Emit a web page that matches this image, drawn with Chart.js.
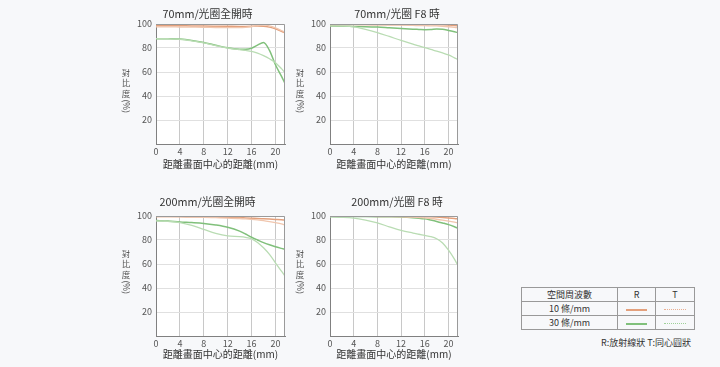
<!DOCTYPE html>
<html>
<head>
<meta charset="utf-8">
<script src="https://cdn.jsdelivr.net/npm/chart.js@4.4.1/dist/chart.umd.min.js"></script>
<style>
  body { margin: 0; width: 720px; height: 367px; overflow: hidden; position: relative; background: #f7f8fa; font-family: "Noto Sans CJK TC", sans-serif; }
  canvas { position: absolute; }
  #legend { position: absolute; left: 521px; top: 287px; border-collapse: collapse; font-size: 9px; color: #333; }
  #legend th, #legend td { border: 1px solid #999; padding: 0; height: 13px; text-align: center; font-weight: normal; line-height: 13px; }
  .smp { display: inline-block; width: 21px; vertical-align: middle; }
  #note { position: absolute; left: 601px; top: 336px; font-size: 9px; color: #333; }
</style>
</head>
<body>
<canvas id="c1" width="181" height="170" style="left:110px;top:0px"></canvas>
<canvas id="c2" width="180" height="170" style="left:284px;top:0px"></canvas>
<canvas id="c3" width="181" height="168" style="left:110px;top:192px"></canvas>
<canvas id="c4" width="180" height="168" style="left:284px;top:192px"></canvas>
<table id="legend"></table>
<div id="note">R:放射線狀 T:同心圓狀</div>
<script>
// --- MTF 曲線 ---
const distance = [0, 2, 4, 6, 8, 10, 12, 14, 15, 16, 17, 18, 19, 20, 21, 21.6];
const xTicks = [0, 4, 8, 12, 16, 20];
const yTicks = [20, 40, 60, 80, 100];

const titles = ['70mm/光圈全開時', '70mm/光圈 F8 時', '200mm/光圈全開時', '200mm/光圈 F8 時'];
const xTitle = '距離畫面中心的距離(mm)';
const freqLabels = ['10 條/mm', '30 條/mm'];

// 70mm 全開
const w70openR10 = [98.6, 98.6, 98.5, 98.4, 98.3, 98.2, 98.1, 98.0, 98.0, 98.1, 98.3, 98.2, 97.4, 96.0, 94.0, 92.6];
const w70openT10 = [97.6, 97.6, 97.5, 97.4, 97.3, 97.1, 97.0, 97.0, 97.2, 97.7, 98.6, 99.2, 98.4, 96.8, 94.6, 93.2];
const w70openR30 = [87.8, 87.7, 87.4, 86.3, 84.6, 82.3, 80.2, 79.0, 78.9, 79.8, 82.4, 84.6, 78.0, 66.0, 56.5, 50.5];
const w70openT30 = [87.8, 87.7, 87.3, 86.0, 84.3, 82.0, 80.0, 78.6, 78.0, 77.2, 75.7, 73.6, 71.0, 67.8, 62.8, 59.4];
// 70mm F8
const w70f8R10 = [99.7, 99.7, 99.7, 99.7, 99.6, 99.6, 99.6, 99.5, 99.5, 99.5, 99.5, 99.4, 99.3, 99.1, 98.8, 98.5];
const w70f8T10 = [99.4, 99.4, 99.4, 99.3, 99.2, 99.1, 99.0, 98.8, 98.7, 98.6, 98.5, 98.4, 98.1, 97.7, 97.2, 96.8];
const w70f8R30 = [98.3, 98.2, 98.0, 97.8, 97.4, 96.8, 96.2, 95.7, 95.5, 95.3, 95.4, 95.8, 95.6, 94.6, 93.5, 92.8];
const w70f8T30 = [98.5, 98.3, 97.6, 95.5, 92.8, 89.6, 86.3, 83.2, 81.8, 80.3, 78.8, 77.4, 75.9, 74.2, 71.8, 70.3];
// 200mm 全開
const t200openR10 = [99.6, 99.6, 99.5, 99.4, 99.3, 99.1, 98.9, 98.6, 98.4, 98.2, 98.0, 97.7, 97.4, 97.1, 96.8, 96.6];
const t200openT10 = [99.4, 99.4, 99.3, 99.1, 98.9, 98.6, 98.3, 97.9, 97.6, 97.2, 96.7, 96.1, 95.3, 94.4, 93.4, 92.6];
const t200openR30 = [96.2, 95.8, 95.0, 94.5, 93.8, 92.5, 90.6, 87.4, 85.0, 82.3, 80.0, 77.8, 76.0, 74.4, 73.0, 72.2];
const t200openT30 = [96.0, 95.5, 94.5, 92.2, 88.8, 85.5, 83.4, 82.8, 82.2, 81.0, 78.0, 73.5, 68.0, 61.0, 54.0, 50.0];
// 200mm F8
const t200f8R10 = [99.8, 99.8, 99.8, 99.8, 99.8, 99.8, 99.7, 99.6, 99.5, 99.4, 99.3, 99.1, 98.8, 98.4, 97.9, 97.5];
const t200f8T10 = [99.7, 99.7, 99.7, 99.7, 99.6, 99.5, 99.3, 99.0, 98.7, 98.4, 97.9, 97.3, 96.6, 95.8, 94.9, 94.3];
const t200f8R30 = [99.6, 99.6, 99.6, 99.5, 99.4, 99.3, 99.1, 98.6, 98.2, 97.6, 96.6, 95.5, 94.2, 92.8, 91.0, 89.8];
const t200f8T30 = [99.2, 98.9, 98.2, 96.5, 94.2, 91.0, 88.0, 85.8, 84.8, 83.8, 82.8, 81.0, 77.5, 71.5, 64.0, 58.6];

const colR10 = '#e3a07c', colT10 = '#f0c6ae';
const colR30 = '#80c07b', colT30 = '#b9dcb3';

const font = '"Noto Sans CJK TC", sans-serif';

// 白底 + 外框 + 標題 + 直書Y軸標題
const framePlugin = {
    id: 'frame',
    beforeDraw(chart) {
        const a = chart.chartArea, ctx = chart.ctx;
        ctx.save();
        ctx.fillStyle = '#fff';
        ctx.fillRect(a.left, a.top, a.right - a.left, a.bottom - a.top);
        ctx.restore();
    },
    afterDraw(chart, args, opts) {
        const a = chart.chartArea, ctx = chart.ctx;
        ctx.save();
        ctx.strokeStyle = '#9a9a9a';
        ctx.lineWidth = 1;
        ctx.beginPath();
        ctx.moveTo(a.left, a.top + 0.5); ctx.lineTo(a.right - 0.5, a.top + 0.5); ctx.lineTo(a.right - 0.5, a.bottom);
        ctx.stroke();

        ctx.fillStyle = '#333';
        ctx.textAlign = 'center';
        ctx.textBaseline = 'middle';
        ctx.font = '10.8px ' + font;
        ctx.fillText(opts.text, opts.cx, opts.cy);

        ctx.font = '8.5px ' + font;
        ctx.fillStyle = '#555';
        const x = a.left - 30;
        let y = a.top + opts.yOff;
        ['對', '比', '度'].forEach(ch => { ctx.fillText(ch, x, y + 4.5); y += 10.5; });
        const w = ctx.measureText('(%)').width;
        ctx.translate(x, y + w / 2);
        ctx.rotate(Math.PI / 2);
        ctx.fillText('(%)', 0, 0);
        ctx.restore();
    }
};

function makeChart(id, title, series, row) {
    const top = row === 0;
    const ctx = document.getElementById(id).getContext('2d');
    const canvasLeft = id === 'c1' || id === 'c3' ? 110 : 284;
    const headCenter = (id === 'c1' || id === 'c3' ? 207.5 : 397) - canvasLeft;
    return new Chart(ctx, {
        type: 'line',
        data: {
            datasets: [
                { data: distance.map((d, i) => ({ x: d, y: series[1][i] })), borderColor: colT10, borderWidth: 1.3 },
                { data: distance.map((d, i) => ({ x: d, y: series[0][i] })), borderColor: colR10, borderWidth: 1.5 },
                { data: distance.map((d, i) => ({ x: d, y: series[3][i] })), borderColor: colT30, borderWidth: 1.3 },
                { data: distance.map((d, i) => ({ x: d, y: series[2][i] })), borderColor: colR30, borderWidth: 1.5 }
            ]
        },
        options: {
            responsive: false,
            animation: false,
            layout: { padding: { top: 24, right: 6, left: 0, bottom: 0 } },
            elements: { point: { radius: 0 }, line: { cubicInterpolationMode: 'monotone' } },
            plugins: {
                legend: { display: false },
                tooltip: { enabled: false },
                frame: { text: title, cx: headCenter, cy: top ? 14 : 10, yOff: top ? 44 : 33 }
            },
            scales: {
                x: {
                    type: 'linear', min: 0, max: 21.6,
                    afterFit: s => { s.height = top ? 26 : 24; },
                    afterBuildTicks: s => { s.ticks = xTicks.map(v => ({ value: v })); },
                    grid: { color: '#c8c8c8', drawTicks: false },
                    border: { color: '#808080' },
                    ticks: { color: '#555', padding: 2, font: { size: 9, family: font } },
                    title: { display: true, text: xTitle, color: '#333', padding: 0, font: { size: 10, family: font } }
                },
                y: {
                    min: 0, max: 100,
                    afterFit: s => { s.width = 46; },
                    afterBuildTicks: s => { s.ticks = [0].concat(yTicks).map(v => ({ value: v })); },
                    grid: { color: '#e0e0e0', drawTicks: false },
                    border: { color: '#808080' },
                    ticks: { color: '#555', padding: 4, font: { size: 9, family: font }, callback: v => v === 0 ? '' : v }
                }
            }
        },
        plugins: [framePlugin]
    });
}

makeChart('c1', titles[0], [w70openR10, w70openT10, w70openR30, w70openT30], 0);
makeChart('c2', titles[1], [w70f8R10, w70f8T10, w70f8R30, w70f8T30], 0);
makeChart('c3', titles[2], [t200openR10, t200openT10, t200openR30, t200openT30], 1);
makeChart('c4', titles[3], [t200f8R10, t200f8T10, t200f8R30, t200f8T30], 1);

// 圖例表
const legend = document.getElementById('legend');
legend.innerHTML = '<tr><th style="width:95px">空間周波數</th><th style="width:37px">R</th><th style="width:38px">T</th></tr>' +
    freqLabels.map((lab, i) => {
        const r = i === 0 ? colR10 : colR30;
        const t = i === 0 ? '#e9ae90' : '#9fd199';
        return `<tr><td>${lab}</td><td><span class="smp" style="border-top:2px solid ${r}"></span></td>` +
               `<td><span class="smp" style="border-top:1px dotted ${t};width:22px"></span></td></tr>`;
    }).join('');
</script>
</body>
</html>
